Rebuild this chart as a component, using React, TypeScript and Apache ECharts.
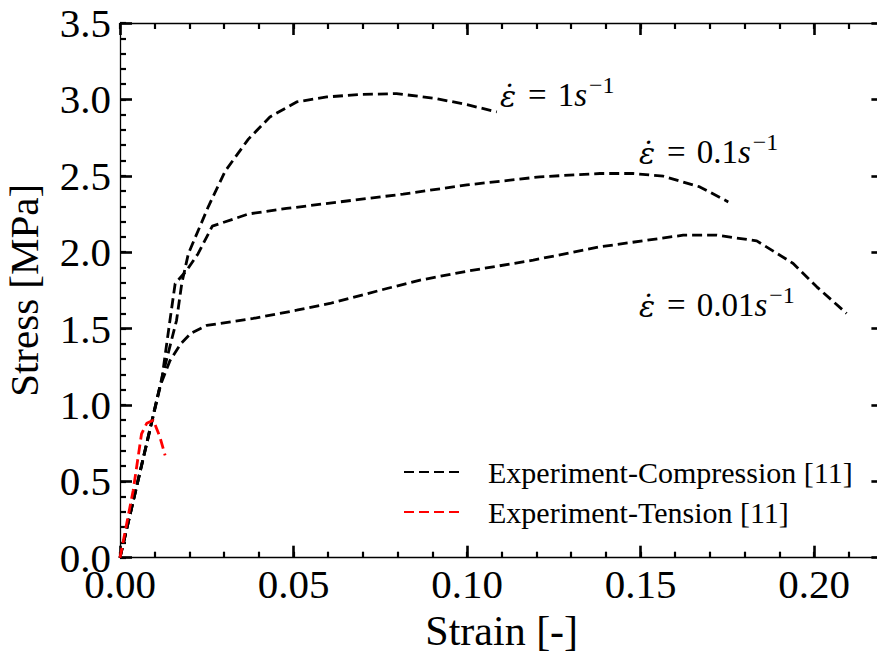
import React, { useEffect, useRef } from 'react';
import * as echarts from 'echarts';

const FONT = 'Liberation Serif';

// Compression, strain rate 1 s^-1
const strainRate1 = [0, 0.012, 0.0163, 0.0178, 0.0197, 0.0255, 0.0303, 0.037, 0.0432, 0.0509, 0.0596, 0.069, 0.0797, 0.0913, 0.1, 0.1086];
const stressRate1 = [0, 1.17, 1.554, 1.795, 1.99, 2.3, 2.53, 2.74, 2.885, 2.983, 3.016, 3.032, 3.038, 3.005, 2.965, 2.918];

// Compression, strain rate 0.1 s^-1
const strainRate01 = [0, 0.012, 0.0144, 0.0159, 0.0192, 0.0225, 0.0266, 0.037, 0.048, 0.0672, 0.0816, 0.1, 0.121, 0.1383, 0.1479, 0.1566, 0.1671, 0.1753];
const stressRate01 = [0, 1.16, 1.554, 1.795, 1.88, 1.99, 2.17, 2.25, 2.286, 2.34, 2.38, 2.44, 2.493, 2.515, 2.515, 2.497, 2.427, 2.329];

// Compression, strain rate 0.01 s^-1
const strainRate001 = [0, 0.0115, 0.0144, 0.0175, 0.0205, 0.025, 0.0384, 0.0509, 0.0605, 0.0769, 0.0865, 0.1, 0.1191, 0.1383, 0.1623, 0.172, 0.1835, 0.194, 0.2008, 0.2094];
const stressRate001 = [0, 1.12, 1.29, 1.4, 1.47, 1.52, 1.566, 1.62, 1.664, 1.762, 1.817, 1.875, 1.948, 2.035, 2.111, 2.111, 2.074, 1.926, 1.773, 1.599];

// Tension
const strainTension = [0, 0.0038, 0.0062, 0.0077, 0.0096, 0.0115, 0.013];
const stressTension = [0, 0.44, 0.81, 0.88, 0.9, 0.79, 0.67];

const xTicks = { min: 0, max: 0.22, major: 0.05, minor: 0.01 };
const yTicks = { min: 0, max: 3.5, major: 0.5, minor: 0.1 };

const legendNames = ['Experiment-Compression [11]', 'Experiment-Tension [11]'];
const rateLabels = [
  { rate: '1', x: 500, y: 73 },
  { rate: '0.1', x: 639, y: 130 },
  { rate: '0.01', x: 639, y: 283 },
];

const zip = (xs: number[], ys: number[]) => xs.map((x, i) => [x, ys[i]]);

export default function App() {
  const ref = useRef<HTMLDivElement>(null);
  useEffect(() => {
    document.body.style.margin = '0';
    const chart = echarts.init(ref.current!, null, { renderer: 'svg' });
    const black = '#000000';
    const majorTick = { show: true, inside: true, length: 12, lineStyle: { color: black, width: 2.6 } };
    const minorTick = { show: true, inside: true, length: 6, lineStyle: { color: black, width: 2.2 } };
    const line = { show: true, onZero: false, lineStyle: { color: black, width: 1.3 } };
    const noLine = { show: false, onZero: false };
    const baseX = { type: 'value', min: xTicks.min, max: xTicks.max, splitLine: { show: false } };
    const baseY = { type: 'value', min: yTicks.min, max: yTicks.max, splitLine: { show: false } };
    const dashed = (color: string) => ({ color, width: 2.8, type: [10, 5] as any });
    const rich = {
      e: { font: `italic 30px "DejaVu Serif"`, lineHeight: 38, verticalAlign: 'bottom' },
      q: { font: `33px "${FONT}"`, lineHeight: 38, verticalAlign: 'bottom', padding: [0, 11, 0, 12] },
      n: { font: `33px "${FONT}"`, lineHeight: 38, verticalAlign: 'bottom' },
      s: { font: `italic 33px "${FONT}"`, lineHeight: 38, verticalAlign: 'bottom' },
      p: { font: `24px "${FONT}"`, lineHeight: 38, verticalAlign: 'top', padding: [0, 0, 0, 2] },
    };
    chart.setOption({
      animation: false,
      backgroundColor: '#ffffff',
      textStyle: { fontFamily: FONT, color: black },
      grid: { left: 120, top: 23, right: -6.4, bottom: 95.3, containLabel: false, outerBoundsMode: 'none' },
      xAxis: [
        {
          ...baseX,
          position: 'bottom',
          interval: xTicks.major,
          axisLine: line,
          axisTick: majorTick,
          axisLabel: {
            show: true, showMaxLabel: false, margin: 6, fontSize: 41, fontFamily: FONT, color: black,
            formatter: (v: number) => v.toFixed(2),
          },
          name: 'Strain [-]',
          nameLocation: 'middle',
          nameGap: 49,
          nameTextStyle: { fontSize: 42, fontFamily: FONT, color: black },
        },
        { ...baseX, position: 'bottom', interval: xTicks.minor, axisLine: noLine, axisTick: minorTick, axisLabel: { show: false } },
        { ...baseX, position: 'top', interval: xTicks.major, axisLine: line, axisTick: majorTick, axisLabel: { show: false } },
        { ...baseX, position: 'top', interval: xTicks.minor, axisLine: noLine, axisTick: minorTick, axisLabel: { show: false } },
      ],
      yAxis: [
        {
          ...baseY, interval: yTicks.major, position: 'left',
          axisLine: line,
          axisTick: majorTick,
          axisLabel: { show: true, margin: 9, fontSize: 41, fontFamily: FONT, color: black, formatter: (v: number) => v.toFixed(1) },
          name: 'Stress [MPa]',
          nameLocation: 'middle',
          nameGap: 76,
          nameRotate: 90,
          nameTextStyle: { fontSize: 41, fontFamily: FONT, color: black },
        },
        { ...baseY, interval: yTicks.minor, position: 'left', axisLine: noLine, axisTick: minorTick, axisLabel: { show: false } },
        { ...baseY, interval: yTicks.major, position: 'right', axisLine: line, axisTick: majorTick, axisLabel: { show: false } },
        { ...baseY, interval: yTicks.minor, position: 'right', axisLine: noLine, axisTick: minorTick, axisLabel: { show: false } },
      ],
      legend: {
        show: true,
        orient: 'vertical',
        left: 403,
        top: 457,
        padding: 0,
        itemWidth: 59,
        itemHeight: 14,
        itemGap: 10,
        data: legendNames,
        itemStyle: { opacity: 0 },
        textStyle: { fontSize: 30, fontFamily: FONT, color: black, padding: [0, 0, 0, 20] },
      },
      series: [
        { name: legendNames[0], type: 'line', symbol: 'none', data: zip(strainRate1, stressRate1), lineStyle: dashed(black), itemStyle: { color: black } },
        { name: legendNames[0], type: 'line', symbol: 'none', data: zip(strainRate01, stressRate01), lineStyle: dashed(black), itemStyle: { color: black } },
        { name: legendNames[0], type: 'line', symbol: 'none', data: zip(strainRate001, stressRate001), lineStyle: dashed(black), itemStyle: { color: black } },
        { name: legendNames[1], type: 'line', symbol: 'none', data: zip(strainTension, stressTension), lineStyle: dashed('#ff0000'), itemStyle: { color: '#ff0000' } },
      ],
      graphic: rateLabels.map((l) => ({
        type: 'text',
        x: l.x,
        y: l.y,
        style: {
          text: `{e|\u03B5\u0307}{q|=}{n|${l.rate}}{s|s}{p|\u22121}`,
          rich,
          font: `33px "${FONT}"`,
          fill: black,
        },
      })),
    });
    return () => chart.dispose();
  }, []);
  return <div ref={ref} style={{ width: 877, height: 653, position: 'absolute', left: 0, top: 0 }} />;
}
